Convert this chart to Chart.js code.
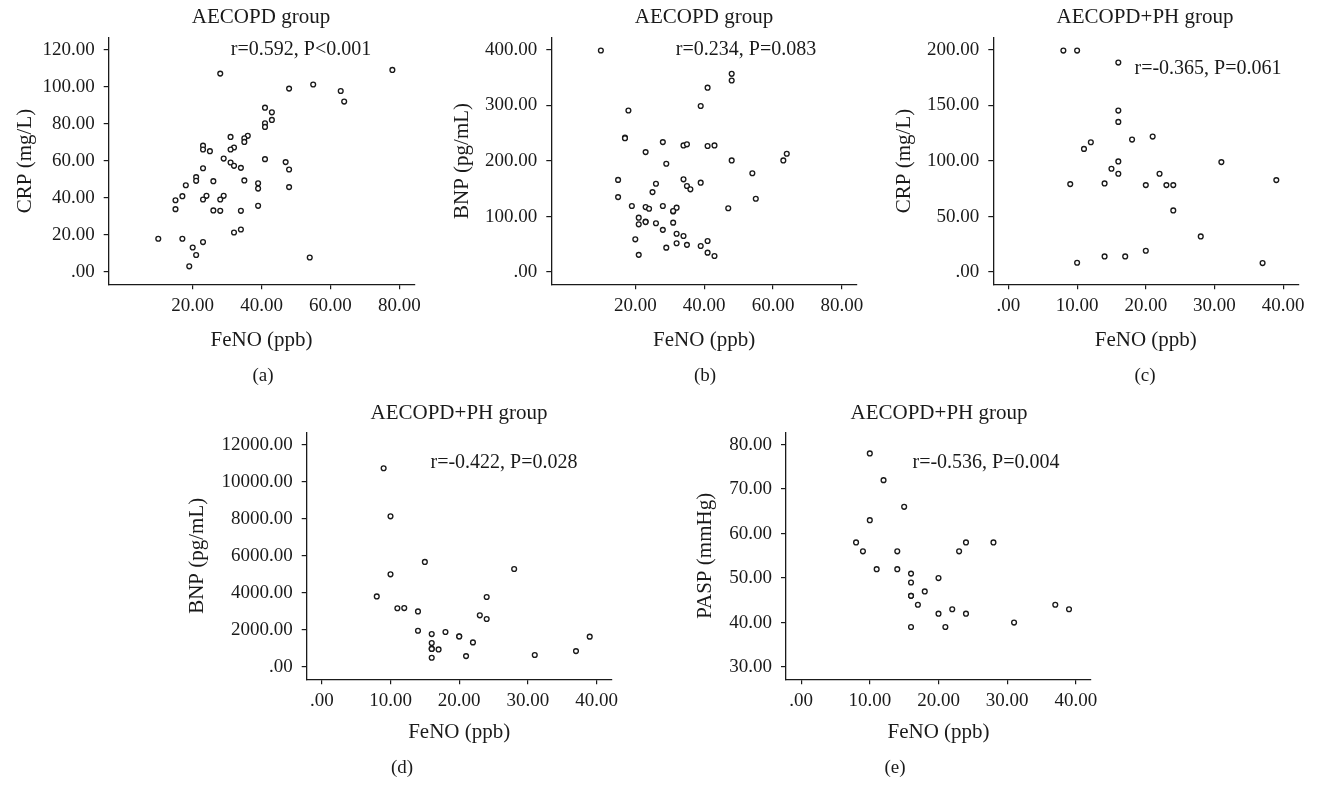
<!DOCTYPE html>
<html>
<head>
<meta charset="utf-8">
<script src="https://cdn.jsdelivr.net/npm/chart.js@4"></script>
<style>
  html,body{margin:0;padding:0;background:#fff;}
  body{width:1319px;height:785px;position:relative;overflow:hidden;}
  canvas{position:absolute;}
</style>
</head>
<body>
<canvas id="pa"></canvas>
<canvas id="pb"></canvas>
<canvas id="pc"></canvas>
<canvas id="pd"></canvas>
<canvas id="pe"></canvas>
<script>
// tick labels
const xTicksAB = [20,40,60,80];
const xTicksPH = [0,10,20,30,40];
const yTicksA = [0,20,40,60,80,100,120];
const yTicksB = [0,100,200,300,400];
const yTicksC = [0,50,100,150,200];
const yTicksD = [0,2000,4000,6000,8000,10000,12000];
const yTicksE = [30,40,50,60,70,80];

// (a) AECOPD: FeNO vs CRP
const fenoA = [10,28,78,55,48,63,64,41,43,41,41,43,31,36,35,35,32,31,23,23,25,29,41,47,31,32,34,23,48,21,21,26,35,18,39,39,48,17,24,29,15,23,28,15,26,28,34,39,32,34,17,23,20,21,19,54];
const crpA  = [18.0,107.2,109.2,101.3,99.1,97.8,92.1,88.8,86.3,80.4,78.4,82.2,73.0,73.6,72.3,70.3,67.3,66.2,68.3,66.2,65.3,61.3,61.0,59.4,59.2,57.4,56.3,56.1,55.4,51.3,49.3,49.1,49.5,46.9,48.0,45.1,45.9,41.0,41.2,41.2,38.8,39.2,39.2,34.0,33.3,33.1,33.1,35.8,21.4,23.0,18.0,16.2,13.3,9.2,3.1,7.9];

// (b) AECOPD: FeNO vs BNP
const fenoB = [10,48,48,41,39,18,17,17,28,34,35,41,43,23,29,48,63,64,54,15,34,26,39,35,36,25,15,55,19,23,24,28,32,31,31,47,21,21,23,23,26,31,28,32,34,20,41,32,29,35,39,41,43,21];
const bnpB  = [399,357,345,332,299,291,242,241,234,228,230,227,228,216,195,201,201,213,178,166,167,159,161,155,149,144,135,132,119,117,114,119,116,109,110,115,98,86,91,90,88,89,76,69,65,59,56,52,44,49,47,35,29,31];

// (c) AECOPD+PH: FeNO vs CRP
const fenoC = [8,10,16,16,16,18,21,12,11,16,31,15,16,22,39,9,14,20,23,24,24,28,20,14,17,10,37];
const crpC  = [199.4,199.4,188.6,145.4,135.2,119.3,122.0,116.9,110.9,99.6,99.0,93.0,88.5,88.5,82.8,79.2,79.8,78.3,78.3,78.3,55.5,32.1,19.2,14.1,14.1,8.4,8.1];

// (d) AECOPD+PH: FeNO vs BNP
const fenoD = [9,10,15,10,28,8,24,11,12,14,23,24,14,16,18,20,20,39,22,16,16,16,17,16,21,31,37];
const bnpD  = [10720,8130,5670,5000,5290,3810,3780,3170,3180,3000,2790,2590,1960,1780,1890,1660,1650,1640,1330,1300,990,980,950,500,590,650,860];

// (e) AECOPD+PH: FeNO vs PASP
const fenoE = [10,12,15,10,8,24,28,9,14,23,11,14,16,16,20,18,16,16,17,37,22,39,20,24,31,16,21];
const paspE = [78,72,66,63,58,58,58,56,56,56,52,52,51,49,50,47,46,46,44,44,43,43,42,42,40,39,39];

Chart.defaults.font.family = "'Liberation Serif', 'Times New Roman', serif";
Chart.defaults.color = "#222";

const INK = "#1a1a1a";
const fmt = v => v === 0 ? ".00" : Number(v).toFixed(2);

// page layout, in page pixels
const panels = [
  {id:"pa", box:[0,0,450,400],     plot:[108.7,37.7,414.4,284.3], xr:[-4.4,84.4], yr:[-6.6,126.6],   xt:xTicksAB, yt:yTicksA, xs:fenoA, ys:crpA,
   yTitle:"CRP (mg/L)",  yTitleX:25,  xTitleY:340, title:"AECOPD group",    titleAt:[261,17.5], stat:"r=0.592, P<0.001",  statAt:[301,50], letter:"(a)", letterAt:[263,376]},
  {id:"pb", box:[430,0,460,400],   plot:[551.3,37.7,857,284.3],   xr:[-4.4,84.4], yr:[-22,422],      xt:xTicksAB, yt:yTicksB, xs:fenoB, ys:bnpB,
   yTitle:"BNP (pg/mL)", yTitleX:462, xTitleY:340, title:"AECOPD group",    titleAt:[704,17.5], stat:"r=0.234, P=0.083",  statAt:[746,50], letter:"(b)", letterAt:[705,376]},
  {id:"pc", box:[870,0,449,400],   plot:[993.3,37.7,1298.3,284.3],xr:[-2.2,42.2], yr:[-11,211],      xt:xTicksPH, yt:yTicksC, xs:fenoC, ys:crpC,
   yTitle:"CRP (mg/L)",  yTitleX:904, xTitleY:340, title:"AECOPD+PH group", titleAt:[1145,17.5],stat:"r=-0.365, P=0.061", statAt:[1208,69],letter:"(c)", letterAt:[1145,376]},
  {id:"pd", box:[180,380,460,405], plot:[306.7,432.3,611.7,679.3],xr:[-2.2,42.2], yr:[-660,12660],   xt:xTicksPH, yt:yTicksD, xs:fenoD, ys:bnpD,
   yTitle:"BNP (pg/mL)", yTitleX:197, xTitleY:732, title:"AECOPD+PH group", titleAt:[459,413], stat:"r=-0.422, P=0.028", statAt:[504,463],letter:"(d)", letterAt:[402,768]},
  {id:"pe", box:[650,380,460,405], plot:[786,432.3,1091,679.3],   xr:[-2.2,42.2], yr:[27.25,82.75], xt:xTicksPH, yt:yTicksE, xs:fenoE, ys:paspE,
   yTitle:"PASP (mmHg)", yTitleX:705, xTitleY:732, title:"AECOPD+PH group", titleAt:[939,413], stat:"r=-0.536, P=0.004", statAt:[986,463],letter:"(e)", letterAt:[895,768]},
];

// group title, r/P note and panel letter
const panelText = {
  id: "panelText",
  afterDraw(chart, args, o) {
    const ctx = chart.ctx;
    ctx.save();
    ctx.fillStyle = INK; ctx.textAlign = "center"; ctx.textBaseline = "middle";
    ctx.font = "21px 'Liberation Serif'"; ctx.fillText(o.title, o.titleAt[0], o.titleAt[1]);
    ctx.font = "20px 'Liberation Serif'"; ctx.fillText(o.stat, o.statAt[0], o.statAt[1]);
    ctx.font = "19px 'Liberation Serif'"; ctx.fillText(o.letter, o.letterAt[0], o.letterAt[1]);
    ctx.restore();
  }
};

function makePanel(p) {
  const [bx, by, bw, bh] = p.box;
  const [L, T, R, B] = p.plot;
  const c = document.getElementById(p.id);
  c.width = bw; c.height = bh;
  c.style.left = bx + "px"; c.style.top = by + "px";
  const rel = ([x, y]) => [x - bx, y - by];
  const axisGrid = {drawOnChartArea:false, drawTicks:true, tickLength:5, color:INK, lineWidth:1.2};
  const axisBorder = {display:true, color:INK, width:1.3};
  new Chart(c, {
    type: "scatter",
    data: {datasets: [{
      data: p.xs.map((x, i) => ({x, y: p.ys[i]})),
      pointStyle: "circle", pointRadius: 2.4, pointHoverRadius: 2.4,
      borderColor: INK, borderWidth: 1.35, backgroundColor: "#fff"
    }]},
    options: {
      responsive: false, animation: false, devicePixelRatio: 1,
      layout: {padding: {left: 0, top: T - by, right: bx + bw - R, bottom: 0}},
      plugins: {
        legend: {display: false}, tooltip: {enabled: false},
        panelText: {title: p.title, titleAt: rel(p.titleAt), stat: p.stat, statAt: rel(p.statAt), letter: p.letter, letterAt: rel(p.letterAt)}
      },
      scales: {
        x: {
          type: "linear", min: p.xr[0], max: p.xr[1],
          afterBuildTicks: s => { s.ticks = p.xt.map(v => ({value: v})); },
          afterFit: s => { s.height = by + bh - B; },
          border: axisBorder, grid: axisGrid,
          ticks: {padding: 5, font: {size: 19}, color: INK, autoSkip: false, maxRotation: 0, callback: fmt},
          title: {display: true, text: "FeNO (ppb)", font: {size: 21}, color: INK,
                  padding: {top: 0, bottom: by + bh - p.xTitleY - 12.6}}
        },
        y: {
          type: "linear", min: p.yr[0], max: p.yr[1],
          afterBuildTicks: s => { s.ticks = p.yt.map(v => ({value: v})); },
          afterFit: s => { s.width = L - bx; },
          border: axisBorder, grid: axisGrid,
          ticks: {padding: 9, font: {size: 19}, color: INK, autoSkip: false, callback: fmt},
          title: {display: true, text: p.yTitle, font: {size: 21}, color: INK,
                  padding: {top: p.yTitleX - bx - 12.6, bottom: 0}}
        }
      }
    },
    plugins: [panelText]
  });
}

panels.forEach(makePanel);
</script>
</body>
</html>
